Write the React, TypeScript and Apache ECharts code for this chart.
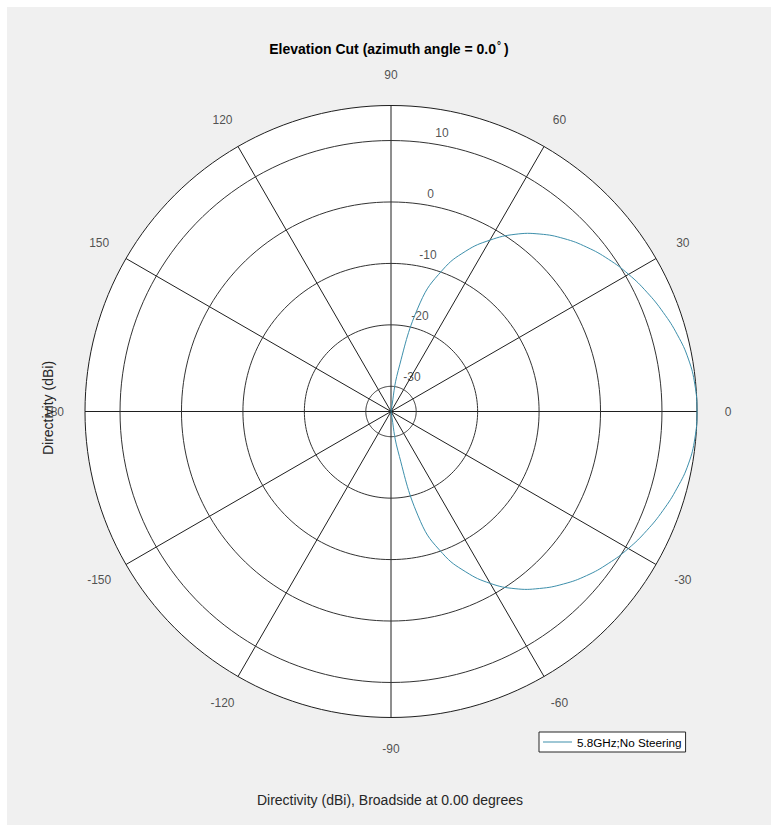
import React, { useEffect, useRef } from "react";
import * as echarts from "echarts";

// Elevation cut of the array pattern: elevation angle (deg) vs directivity (dBi)
const ELEVATION_DEG = [
  -90, -85, -80, -75, -70, -65, -60, -55, -50, -45, -40, -35, -30, -25, -20, -15, -10, -5,
  0,
  5, 10, 15, 20, 25, 30, 35, 40, 45, 50, 55, 60, 65, 70, 75, 80, 85, 90,
];
const DIRECTIVITY_DBI = [
  -50, -40, -27.6, -15.6, -9.5, -5.3, -1.8, 1.1, 3.5, 5.6, 7.45, 9.05, 10.5, 11.8, 13.0, 14.1, 15.05, 15.55,
  15.7,
  15.55, 15.05, 14.15, 13.05, 11.85, 10.55, 9.1, 7.5, 5.7, 3.6, 1.1, -1.9, -5.3, -9.6, -15.8, -27.3, -40, -50,
];
const SERIES_NAME = "5.8GHz;No Steering";

// Radial (dB) range and grid rings
const R_MIN = -34.1;
const R_MAX = 15.7;
const RADIAL_TICKS = [-30, -20, -10, 0, 10];

// Angular ticks and their labels
const ANGLE_TICKS = [0, 30, 60, 90, 120, 150, 180, 210, 240, 270, 300, 330];
const ANGLE_LABELS = ["0", "30", "60", "90", "120", "150", "180", "-150", "-120", "-90", "-60", "-30"];

const FONT = "'Liberation Sans', Arial, Helvetica, sans-serif";
const TEXT_COLOR = "#262626";
const GRID_COLOR = "#1f1f1f";
const CURVE_COLOR = "#3d8fab";

export default function App() {
  const ref = useRef<HTMLDivElement>(null);

  useEffect(() => {
    if (!ref.current) return;
    const chart = echarts.init(ref.current, null, { renderer: "svg" });

    // sample points used to trace each constant-dB ring around the full circle
    const ringAngles: number[] = [];
    for (let a = 0; a <= 360; a += 2) ringAngles.push(a);

    const ringSeries = RADIAL_TICKS.map((t) => ({
      type: "line",
      coordinateSystem: "polar",
      polarIndex: 0,
      data: ringAngles.map((a) => [t, a]),
      symbol: "none",
      silent: true,
      lineStyle: { color: "#333333", width: 1 },
      z: 1,
    }));

    // values below the radial minimum sit at the centre of the plot
    const curveData = ELEVATION_DEG.map((a, i) => [
      Math.max(DIRECTIVITY_DBI[i], R_MIN),
      a < 0 ? a + 360 : a,
    ]);

    const plainLabel = {
      show: true,
      position: "inside",
      fontSize: 12,
      fontFamily: FONT,
      color: TEXT_COLOR,
      textBorderWidth: 0,
      textBorderColor: "transparent",
    };

    const option: any = {
      animation: false,
      backgroundColor: "#f0f0f0",
      title: {
        text: "Elevation Cut (azimuth angle = 0.0{deg|°})",
        left: "center",
        top: 28,
        textStyle: {
          fontSize: 14,
          fontWeight: "bold",
          color: "#000",
          fontFamily: FONT,
          rich: {
            deg: {
              fontSize: 10,
              fontWeight: "bold",
              fontFamily: FONT,
              color: "#000",
              padding: [0, 3, 7, 1],
            },
          },
        },
      },
      legend: {
        data: [SERIES_NAME],
        left: 532,
        top: 725,
        backgroundColor: "#ffffff",
        borderColor: "#262626",
        borderWidth: 1,
        borderRadius: 0,
        padding: [4, 4, 4, 4],
        icon: "rect",
        itemWidth: 29,
        itemHeight: 1,
        itemGap: 4,
        textStyle: { fontSize: 11.7, color: "#000", fontFamily: FONT },
      },
      polar: [
        { center: [384, 404.5], radius: 306 },
        { center: [384, 404.5], radius: 337 },
      ],
      angleAxis: [
        {
          polarIndex: 0,
          type: "value",
          min: 0,
          max: 360,
          interval: 30,
          startAngle: 0,
          clockwise: false,
          axisLine: { show: true, lineStyle: { color: GRID_COLOR, width: 1 } },
          axisTick: { show: false },
          axisLabel: { show: false },
          splitLine: { show: true, lineStyle: { color: GRID_COLOR, width: 1 } },
        },
        {
          polarIndex: 1,
          type: "value",
          min: 0,
          max: 360,
          startAngle: 0,
          clockwise: false,
          show: false,
        },
      ],
      radiusAxis: [
        {
          polarIndex: 0,
          type: "value",
          min: R_MIN,
          max: R_MAX,
          axisLine: { show: false },
          axisTick: { show: false },
          axisLabel: { show: false },
          splitLine: { show: false },
          splitArea: { show: true, areaStyle: { color: ["#ffffff"] } },
        },
        { polarIndex: 1, type: "value", min: 0, max: 1, show: false },
      ],
      graphic: [
        {
          type: "text",
          x: 41,
          y: 401,
          rotation: Math.PI / 2,
          style: {
            text: "Directivity (dBi)",
            fontSize: 14,
            fontFamily: FONT,
            fill: TEXT_COLOR,
            align: "center",
            verticalAlign: "middle",
          },
        },
        {
          type: "text",
          x: 383,
          y: 793,
          style: {
            text: "Directivity (dBi), Broadside at 0.00 degrees",
            fontSize: 14,
            fontFamily: FONT,
            fill: TEXT_COLOR,
            align: "center",
            verticalAlign: "middle",
          },
        },
      ],
      series: [
        ...ringSeries,
        {
          // angle tick labels around the outer circle
          type: "scatter",
          coordinateSystem: "polar",
          polarIndex: 1,
          symbolSize: 0,
          silent: true,
          data: ANGLE_TICKS.map((a) => [1, a]),
          label: {
            ...plainLabel,
            formatter: (p: any) => ANGLE_LABELS[p.dataIndex],
          },
          z: 5,
        },
        {
          // dB labels for the rings
          type: "scatter",
          coordinateSystem: "polar",
          polarIndex: 0,
          symbolSize: 0,
          silent: true,
          data: RADIAL_TICKS.map((t) => [t, 82.5]),
          label: {
            ...plainLabel,
            align: "left",
            verticalAlign: "middle",
            offset: [9, -10],
            formatter: (p: any) => String(RADIAL_TICKS[p.dataIndex]),
          },
          z: 5,
        },
        {
          // pattern curve: one smoothed polyline through all samples
          name: SERIES_NAME,
          type: "custom",
          coordinateSystem: "polar",
          polarIndex: 0,
          data: curveData,
          itemStyle: { color: CURVE_COLOR },
          renderItem: (params: any, api: any) => {
            if (params.dataIndex !== 0) return null;
            const points = curveData.map((d) => api.coord(d));
            return {
              type: "polyline",
              shape: { points, smooth: 0.45 },
              style: { stroke: CURVE_COLOR, fill: "none", lineWidth: 1 },
            };
          },
          z: 10,
        },
      ],
    };

    chart.setOption(option);
    return () => chart.dispose();
  }, []);

  return (
    <div
      ref={ref}
      style={{ position: "absolute", left: 7, top: 7, width: 764, height: 818 }}
    />
  );
}
